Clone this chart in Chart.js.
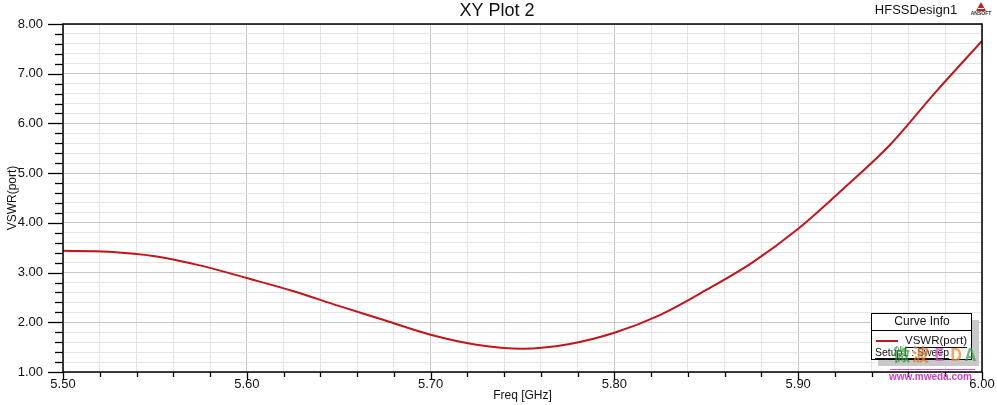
<!DOCTYPE html>
<html><head><meta charset="utf-8">
<script src="https://cdn.jsdelivr.net/npm/chart.js@4.4.1/dist/chart.umd.min.js"></script>
<style>html,body{margin:0;padding:0;background:#fff;}#c{display:block;}</style>
</head><body>
<canvas id="c" width="997" height="405"></canvas>
<script>
const freqGHz = [5.500,5.525,5.550,5.575,5.600,5.625,5.650,5.675,5.700,5.725,5.750,5.775,5.800,5.825,5.850,5.875,5.900,5.925,5.950,5.975,6.000];
const vswrPort = [3.44,3.42,3.33,3.14,2.89,2.63,2.33,2.04,1.75,1.55,1.47,1.56,1.79,2.15,2.65,3.20,3.88,4.70,5.57,6.64,7.66];
const xTickLabels = ['5.50','5.60','5.70','5.80','5.90','6.00'];
const yTickLabels = ['1.00','2.00','3.00','4.00','5.00','6.00','7.00','8.00'];
const chartTitle = 'XY Plot 2';
const designName = 'HFSSDesign1';
const xTitle = 'Freq [GHz]';
const yTitle = 'VSWR(port)';
const seriesName = 'VSWR(port)';
const setupName = 'Setup1 : Sweep';

const FONT = '"Liberation Sans", Arial, sans-serif';
const isMajorX = v => Math.abs(v*10 - Math.round(v*10)) < 1e-6;
const isMajorY = v => Math.abs(v - Math.round(v)) < 1e-6;
const zeroPad = s => { s.paddingLeft = 0; s.paddingRight = 0; s.paddingTop = 0; s.paddingBottom = 0; };

const deco = {
  id: 'deco',
  afterDraw(chart) {
    const ctx = chart.ctx, a = chart.chartArea;
    const xs = chart.scales.x, ys = chart.scales.y;
    ctx.save();
    ctx.strokeStyle = '#000'; ctx.lineWidth = 1.5;
    ctx.strokeRect(a.left, a.top, a.right - a.left, a.bottom - a.top);
    ctx.lineWidth = 1.3;
    ys.ticks.forEach(t => {
      const y = Math.round(ys.getPixelForValue(t.value)) + 0.5;
      const len = isMajorY(t.value) ? 15 : 8;
      ctx.beginPath(); ctx.moveTo(a.left - len, y); ctx.lineTo(a.left, y); ctx.stroke();
    });
    xs.ticks.forEach(t => {
      const x = Math.round(xs.getPixelForValue(t.value)) + 0.5;
      const len = isMajorX(t.value) ? 8 : 5;
      ctx.beginPath(); ctx.moveTo(x, a.bottom); ctx.lineTo(x, a.bottom + len); ctx.stroke();
    });
    ctx.fillStyle = '#111';
    ctx.textBaseline = 'middle';
    ctx.textAlign = 'center';
    ctx.font = '18px ' + FONT;
    ctx.fillText(chartTitle, 497, 11);
    ctx.font = '13px ' + FONT;
    ctx.fillText(designName, 916, 10);
    ctx.font = '12px ' + FONT;
    ctx.fillText(xTitle, (a.left + a.right) / 2, 396);
    ctx.save();
    ctx.translate(13, (a.top + a.bottom) / 2);
    ctx.rotate(-Math.PI / 2);
    ctx.fillText(yTitle, 0, 0);
    ctx.restore();
    // ANSOFT logo
    ctx.fillStyle = '#b22';
    ctx.beginPath(); ctx.moveTo(981, 2); ctx.lineTo(976, 11); ctx.lineTo(986, 11); ctx.closePath(); ctx.fill();
    ctx.fillStyle = '#fff';
    ctx.fillRect(978, 8, 6, 1);
    ctx.fillStyle = '#333';
    ctx.font = 'bold 5px ' + FONT;
    ctx.fillText('ANSOFT', 981, 14);
    // legend box
    ctx.fillStyle = '#c8c8c8';
    ctx.fillRect(878, 320, 101, 46);
    ctx.fillStyle = '#fff';
    ctx.fillRect(871, 313, 101, 47);
    ctx.strokeStyle = '#000'; ctx.lineWidth = 1;
    ctx.strokeRect(871.5, 313.5, 100, 46);
    ctx.beginPath(); ctx.moveTo(871, 330.5); ctx.lineTo(972, 330.5); ctx.stroke();
    ctx.fillStyle = '#111';
    ctx.font = '12px ' + FONT;
    ctx.fillText('Curve Info', 922, 322);
    ctx.strokeStyle = '#c0161c'; ctx.lineWidth = 2;
    ctx.beginPath(); ctx.moveTo(876, 341); ctx.lineTo(898, 341); ctx.stroke();
    ctx.textAlign = 'left';
    ctx.font = '11.5px ' + FONT;
    ctx.fillText(seriesName, 905, 341);
    let w = ctx.measureText(seriesName).width;
    ctx.strokeStyle = '#111'; ctx.lineWidth = 1;
    ctx.beginPath(); ctx.moveTo(905, 347.5); ctx.lineTo(905 + w, 347.5); ctx.stroke();
    ctx.font = '10.5px ' + FONT;
    ctx.fillText(setupName, 875, 353);
    w = ctx.measureText(setupName).width;
    ctx.beginPath(); ctx.moveTo(875, 358.5); ctx.lineTo(875 + w, 358.5); ctx.stroke();
    // watermark
    ctx.globalAlpha = 0.75;
    ctx.font = 'bold 17px "Noto Sans CJK SC", sans-serif';
    const wm = [['微','#2e9a3a',893],['波','#e07a20',912],['E','#e050c8',934],['D','#f08a30',950],['A','#38a048',965]];
    wm.forEach(([ch,col,x]) => { ctx.fillStyle = col; ctx.fillText(ch, x, 355); });
    ctx.globalAlpha = 1;
    ctx.strokeStyle = '#d050c8'; ctx.lineWidth = 1;
    ctx.beginPath(); ctx.moveTo(890, 369.5); ctx.lineTo(975, 369.5); ctx.stroke();
    ctx.fillStyle = '#cc44c0';
    ctx.font = 'bold 10px ' + FONT;
    ctx.fillText('www.mweda.com', 889, 377);
    ctx.restore();
  }
};

new Chart(document.getElementById('c'), {
  type: 'line',
  data: {
    datasets: [{
      label: seriesName,
      data: freqGHz.map((f, i) => ({x: f, y: vswrPort[i]})),
      borderColor: '#c0161c',
      borderWidth: 2,
      pointRadius: 0,
      cubicInterpolationMode: 'monotone',
      fill: false
    }]
  },
  options: {
    responsive: false,
    animation: false,
    devicePixelRatio: 1,
    layout: { padding: { top: 24, right: 15, left: 0, bottom: 0 } },
    plugins: { legend: { display: false }, title: { display: false }, tooltip: { enabled: false } },
    scales: {
      x: {
        type: 'linear', min: 5.5, max: 6.0,
        afterFit: s => { s.height = 33; zeroPad(s); },
        afterBuildTicks: s => {
          const t = [];
          for (let i = 0; i <= 25; i++) t.push({ value: +(5.5 + i * 0.02).toFixed(2) });
          s.ticks = t;
        },
        border: { display: false },
        grid: {
          drawTicks: false,
          color: c => isMajorX(c.tick.value) ? '#c6c6c6' : '#e4e4e4',
          lineWidth: 1
        },
        ticks: {
          autoSkip: false, maxRotation: 0, padding: 5, color: '#111',
          font: { family: FONT, size: 13 },
          callback: v => {
            if (!isMajorX(v)) return '';
            const lbl = (Math.round(v * 10) / 10).toFixed(2);
            return xTickLabels.includes(lbl) ? lbl : '';
          }
        }
      },
      y: {
        type: 'linear', min: 1, max: 8,
        afterFit: s => { s.width = 63; zeroPad(s); },
        afterBuildTicks: s => {
          const t = [];
          for (let i = 0; i <= 35; i++) t.push({ value: +(1 + i * 0.2).toFixed(1) });
          s.ticks = t;
        },
        border: { display: false },
        grid: {
          drawTicks: false,
          color: c => isMajorY(c.tick.value) ? '#c6c6c6' : '#e4e4e4',
          lineWidth: 1
        },
        ticks: {
          autoSkip: false, padding: 20, color: '#111',
          font: { family: FONT, size: 13 },
          callback: v => {
            if (!isMajorY(v)) return '';
            const lbl = Math.round(v).toFixed(2);
            return yTickLabels.includes(lbl) ? lbl : '';
          }
        }
      }
    }
  },
  plugins: [deco]
});
</script>
</body></html>
